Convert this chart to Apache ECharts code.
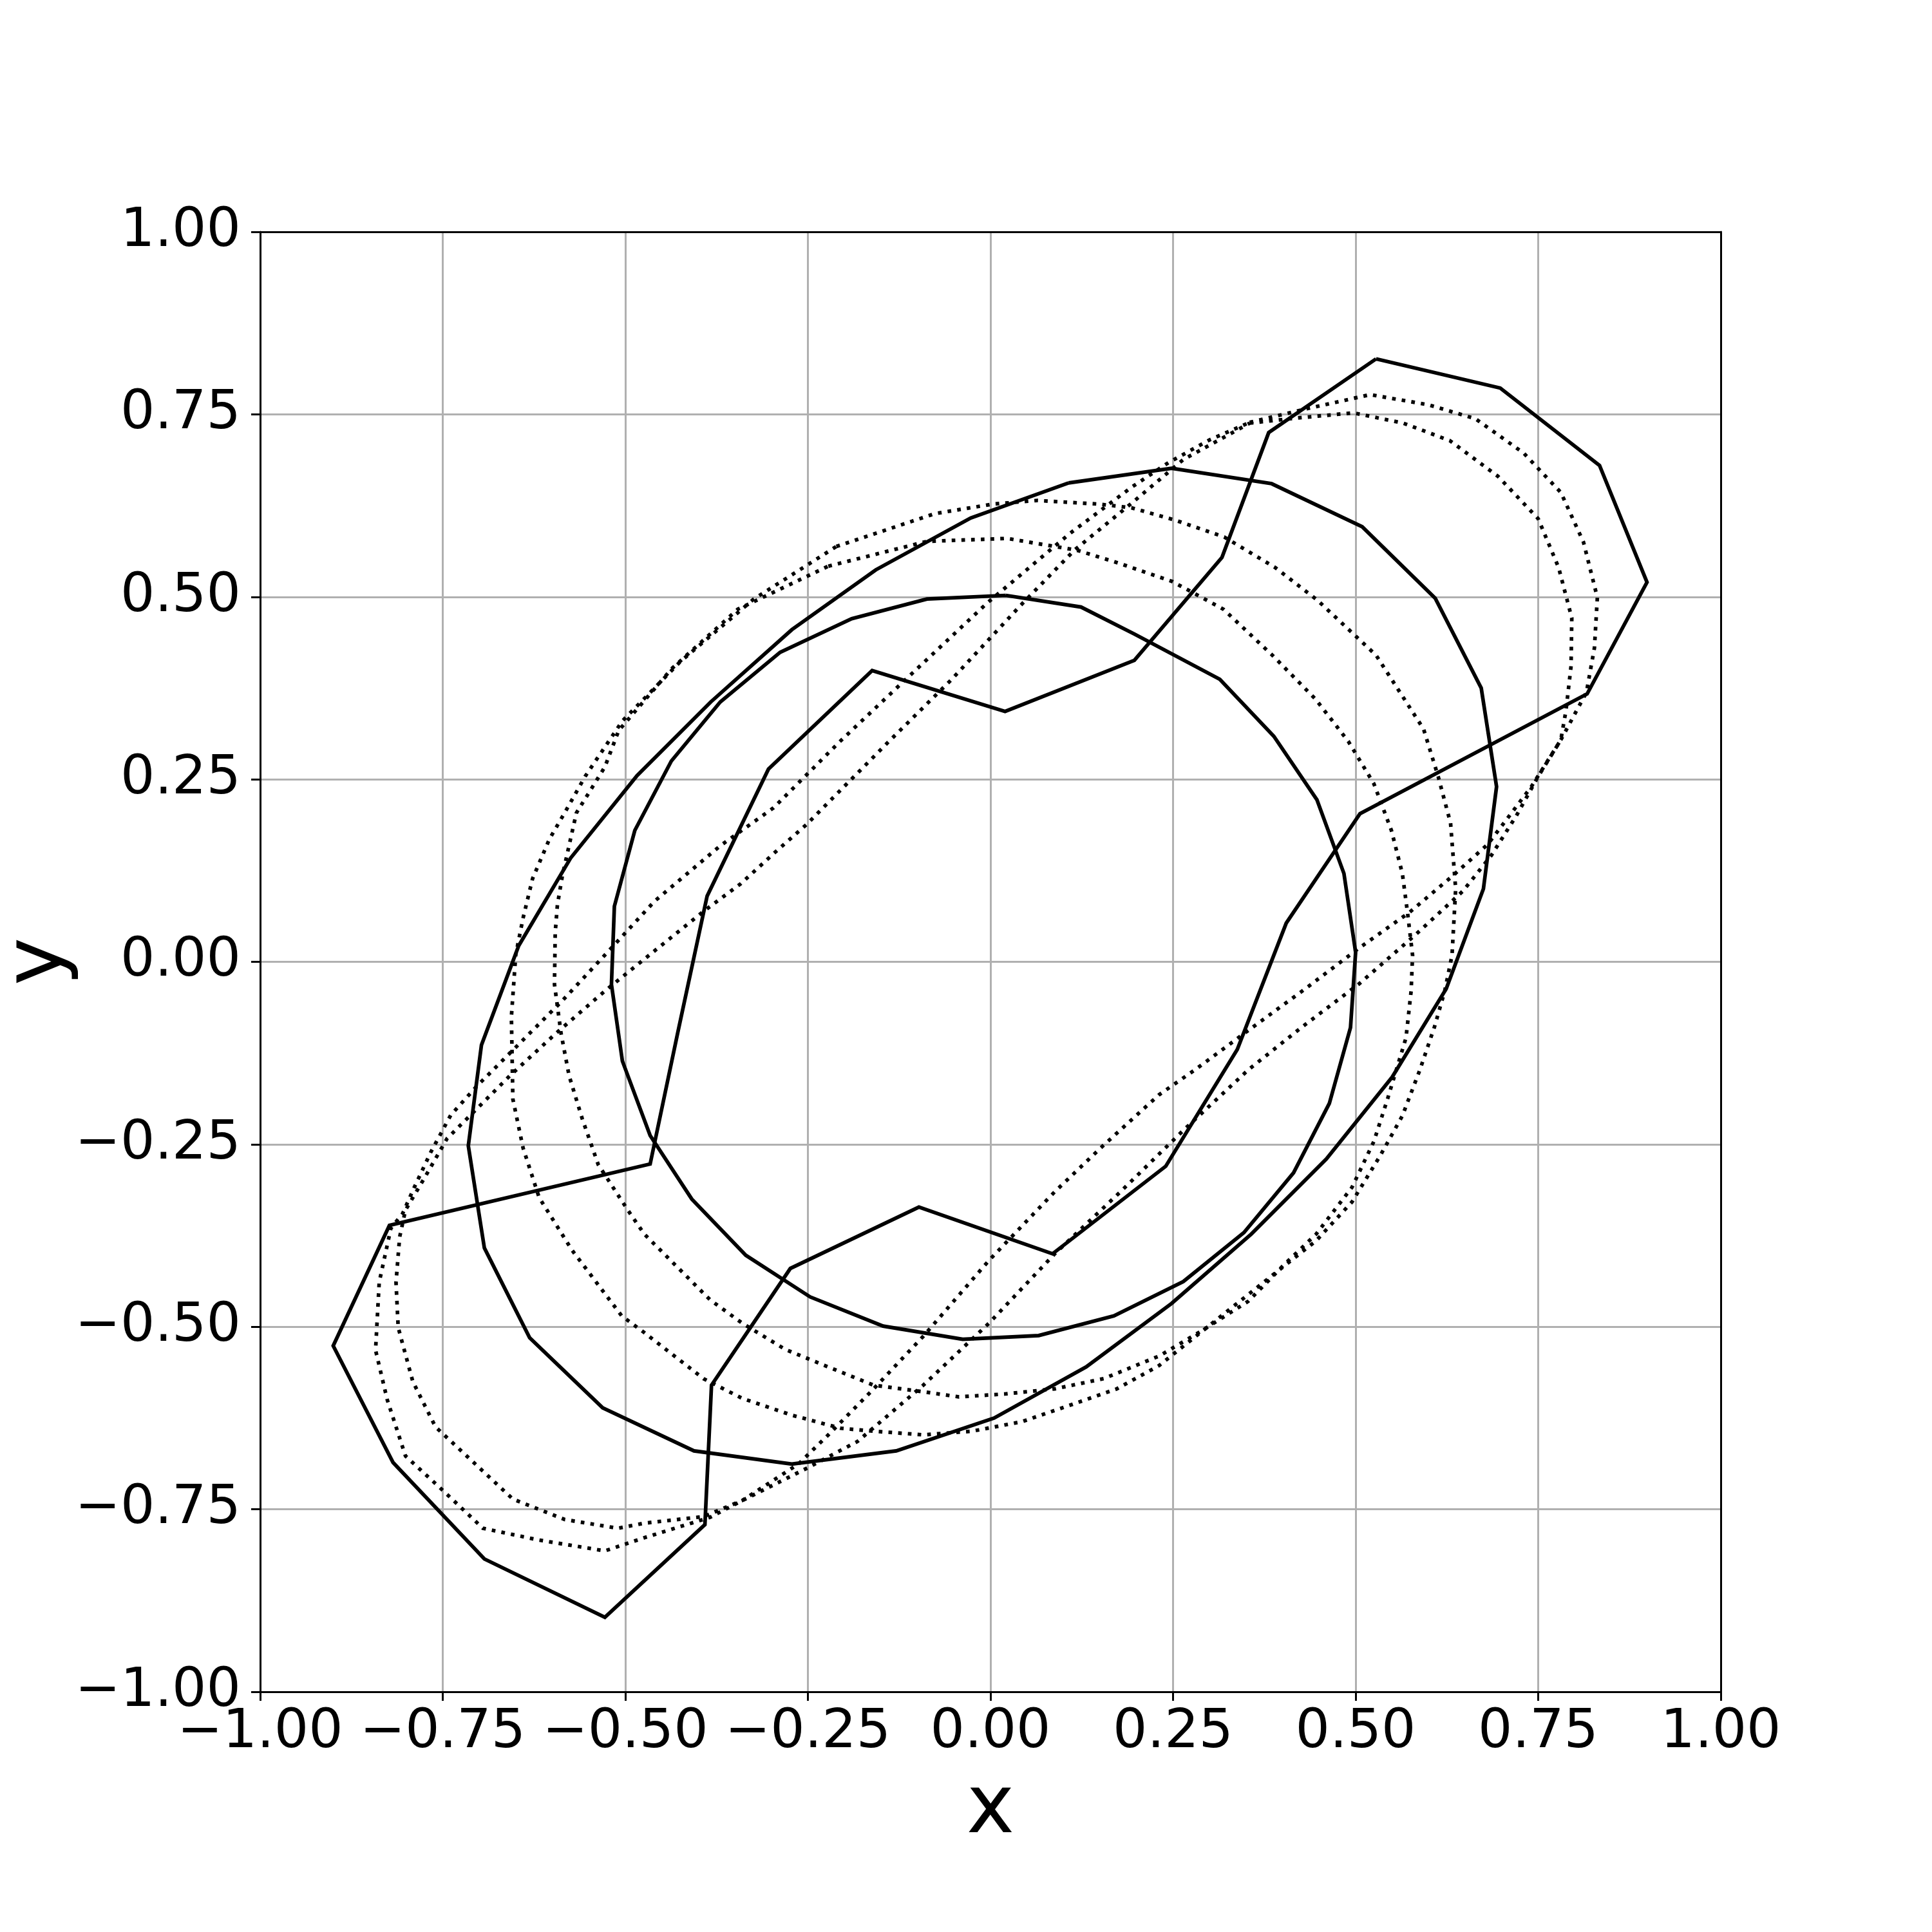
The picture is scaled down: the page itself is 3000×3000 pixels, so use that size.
<!DOCTYPE html>
<html>
<head>
<meta charset="utf-8">
<script src="https://cdn.jsdelivr.net/npm/echarts@6/dist/echarts.min.js"></script>
<style>
html,body{margin:0;padding:0;background:#fff;}
#chart{width:3000px;height:3000px;}
</style>
</head>
<body>
<div id="chart"></div>
<script>
// ---- data (x, y pairs) ----
const tickValues = [-1, -0.75, -0.5, -0.25, 0, 0.25, 0.5, 0.75, 1];

const solidInner = [
[0.021,0.502],[0.124,0.486],[0.197,0.449],[0.314,0.387],[0.388,0.309],[0.447,0.222],[0.484,0.121],[0.500,0.013],
[0.493,-0.090],[0.464,-0.194],[0.415,-0.289],[0.347,-0.371],[0.264,-0.438],[0.169,-0.485],[0.066,-0.512],[-0.038,-0.517],
[-0.147,-0.499],[-0.247,-0.459],[-0.335,-0.402],[-0.409,-0.325],[-0.466,-0.238],[-0.504,-0.136],[-0.519,-0.031],[-0.515,0.076],
[-0.487,0.180],[-0.437,0.275],[-0.370,0.356],[-0.288,0.424],[-0.190,0.470],[-0.087,0.497]
];

const solidMiddle = [
[0.107,0.656],[0.248,0.676],[0.385,0.655],[0.509,0.596],[0.609,0.498],[0.672,0.375],[0.693,0.240],[0.675,0.100],
[0.624,-0.037],[0.550,-0.158],[0.460,-0.270],[0.357,-0.373],[0.248,-0.468],[0.131,-0.555],[0.005,-0.625],[-0.129,-0.670],
[-0.272,-0.688],[-0.406,-0.670],[-0.531,-0.611],[-0.631,-0.515],[-0.693,-0.392],[-0.715,-0.252],[-0.697,-0.114],[-0.646,0.022],
[-0.575,0.142],[-0.484,0.255],[-0.383,0.356],[-0.272,0.455],[-0.157,0.537],[-0.027,0.608]
];

const solidOuter = [
[0.528,0.826],[0.698,0.786],[0.834,0.680],[0.899,0.520],[0.817,0.367],[0.506,0.203],[0.405,0.053],[0.338,-0.120],
[0.240,-0.280],[0.085,-0.400],[-0.098,-0.336],[-0.274,-0.420],[-0.382,-0.580],[-0.391,-0.771],[-0.528,-0.898],[-0.693,-0.818],
[-0.818,-0.686],[-0.900,-0.526],[-0.823,-0.361],[-0.466,-0.277],[-0.428,-0.096],[-0.388,0.090],[-0.304,0.264],[-0.162,0.399],
[0.020,0.343],[0.197,0.413],[0.317,0.554],[0.381,0.725]
];

const dottedOuterA = [
[0.355,0.739],[0.430,0.757],[0.520,0.777],[0.600,0.763],[0.664,0.744],[0.730,0.697],[0.781,0.643],[0.812,0.575],
[0.831,0.499],[0.827,0.430],[0.816,0.369],[0.781,0.304],[0.750,0.254],[0.720,0.200],[0.686,0.146],[0.647,0.097],
[0.583,0.038],[0.505,-0.030],[0.427,-0.089],[0.353,-0.148],[0.265,-0.230],[0.178,-0.315],[0.088,-0.400],[-0.002,-0.495],
[-0.092,-0.580],[-0.182,-0.657],[-0.250,-0.693],[-0.340,-0.738],[-0.384,-0.761],[-0.474,-0.789],[-0.528,-0.807],[-0.619,-0.792],
[-0.695,-0.776],[-0.750,-0.724],[-0.801,-0.677],[-0.826,-0.600],[-0.842,-0.532],[-0.837,-0.439],[-0.821,-0.365],[-0.805,-0.345],
[-0.789,-0.309],[-0.766,-0.260],[-0.739,-0.210],[-0.703,-0.170],[-0.649,-0.116],[-0.586,-0.053],[-0.519,0.019],[-0.460,0.083],
[-0.370,0.159],[-0.297,0.211],[-0.207,0.301],[-0.117,0.386],[-0.004,0.492],[0.109,0.587],[0.193,0.650],[0.244,0.684],[0.300,0.715]
];

const dottedOuterB = [
[0.355,0.738],[0.420,0.745],[0.497,0.752],[0.565,0.738],[0.629,0.714],[0.695,0.665],[0.750,0.607],[0.778,0.540],
[0.796,0.471],[0.795,0.405],[0.788,0.344],[0.781,0.304],[0.740,0.239],[0.681,0.161],[0.632,0.117],[0.574,0.068],
[0.505,0.019],[0.427,-0.040],[0.353,-0.094],[0.280,-0.148],[0.231,-0.182],[0.153,-0.253],[0.088,-0.315],[-0.002,-0.409],
[-0.092,-0.513],[-0.160,-0.585],[-0.222,-0.648],[-0.263,-0.688],[-0.340,-0.738],[-0.393,-0.760],[-0.474,-0.769],[-0.510,-0.776],
[-0.583,-0.764],[-0.654,-0.736],[-0.760,-0.637],[-0.791,-0.575],[-0.811,-0.501],[-0.814,-0.439],[-0.809,-0.377],[-0.801,-0.340],
[-0.775,-0.296],[-0.744,-0.242],[-0.712,-0.210],[-0.658,-0.156],[-0.595,-0.098],[-0.528,-0.040],[-0.460,0.015],[-0.393,0.069],
[-0.342,0.107],[-0.295,0.150],[-0.252,0.188],[-0.140,0.301],[-0.054,0.386],[0.041,0.488],[0.115,0.564],[0.193,0.628],[0.264,0.688]
];

const dottedMidA = [
[-0.211,0.569],[-0.076,0.614],[0.003,0.627],[0.064,0.632],[0.149,0.627],[0.193,0.622],[0.253,0.605],[0.320,0.582],
[0.390,0.540],[0.447,0.496],[0.528,0.420],[0.593,0.319],[0.613,0.254],[0.630,0.190],[0.637,0.100],[0.632,0.009],
[0.622,-0.040],[0.608,-0.089],[0.588,-0.148],[0.564,-0.211],[0.534,-0.265],[0.495,-0.329],[0.446,-0.382],[0.398,-0.420],
[0.310,-0.490],[0.231,-0.553],[0.173,-0.585],[0.110,-0.607],[0.043,-0.630],[-0.025,-0.643],[-0.092,-0.648],[-0.160,-0.643],
[-0.205,-0.639],[-0.272,-0.621],[-0.340,-0.598],[-0.393,-0.571],[-0.474,-0.508],[-0.505,-0.485],[-0.573,-0.395],[-0.618,-0.323],
[-0.640,-0.255],[-0.654,-0.188],[-0.656,-0.075],[-0.650,0.010],[-0.640,0.060],[-0.627,0.114],[-0.604,0.168],[-0.582,0.206],
[-0.555,0.254],[-0.504,0.330],[-0.425,0.411],[-0.324,0.497]
];

const dottedMidB = [
[-0.222,0.542],[-0.087,0.576],[0.023,0.580],[0.064,0.573],[0.118,0.564],[0.176,0.546],[0.249,0.521],[0.319,0.483],
[0.386,0.420],[0.445,0.360],[0.490,0.302],[0.525,0.244],[0.549,0.180],[0.564,0.121],[0.571,0.068],[0.578,0.009],
[0.576,-0.040],[0.569,-0.104],[0.544,-0.187],[0.525,-0.246],[0.495,-0.309],[0.446,-0.373],[0.402,-0.415],[0.353,-0.465],
[0.290,-0.505],[0.231,-0.540],[0.155,-0.571],[0.088,-0.585],[0.020,-0.592],[-0.043,-0.596],[-0.092,-0.589],[-0.160,-0.580],
[-0.227,-0.553],[-0.281,-0.531],[-0.340,-0.495],[-0.384,-0.463],[-0.429,-0.418],[-0.474,-0.373],[-0.496,-0.341],[-0.537,-0.278],
[-0.559,-0.215],[-0.577,-0.156],[-0.588,-0.098],[-0.597,-0.031],[-0.596,0.040],[-0.593,0.078],[-0.586,0.119],[-0.567,0.204],
[-0.528,0.267],[-0.509,0.317],[-0.436,0.402],[-0.346,0.483]
];

// ---- chart ----
function closed(a){ return a.concat([a[0]]); }
function fmt(v){ return (v < 0 ? '\u2212' : '') + Math.abs(v).toFixed(2); }

const FONT = 'DejaVu Sans';
const LW = 5.7;
const solidStyle = {color:'#000', width:LW, type:'solid', cap:'butt', join:'miter'};
const dotStyle = {color:'#000', width:LW, type:[LW, 9.4], cap:'butt', join:'miter'};

function lineSeries(name, pts, style){
  return {
    name: name, type:'line', data: closed(pts), showSymbol:false, symbol:'none',
    xAxisIndex:0, yAxisIndex:0,
    lineStyle: style, silent:true, animation:false, z:3, clip:true
  };
}

const axisCommon = {
  type:'value', min:-1, max:1, interval:0.25,
  axisLine:{show:true, onZero:false, lineStyle:{color:'#000', width:3}},
  axisTick:{show:true, inside:false, length:14, lineStyle:{color:'#000', width:3}},
  splitLine:{show:true, lineStyle:{color:'#b0b0b0', width:3}},
  axisLabel:{fontFamily:FONT, fontSize:84, color:'#000', formatter: fmt}
};
const spineOnly = {
  type:'value', min:-1, max:1, interval:0.25,
  axisLine:{show:true, onZero:false, lineStyle:{color:'#000', width:3}},
  axisTick:{show:false}, axisLabel:{show:false}, splitLine:{show:false}
};

const chart = echarts.init(document.getElementById('chart'), null, {renderer:'canvas', width:3000, height:3000});
chart.setOption({
  animation:false,
  backgroundColor:'#fff',
  grid:{left:404, top:360, width:2268, height:2267, containLabel:false, outerBoundsMode:'none',
        show:false},
  xAxis: [
    Object.assign({}, axisCommon, {
      position:'bottom',
      name:'x', nameLocation:'middle', nameGap:122, nameMoveOverlap:false,
      nameTextStyle:{fontFamily:FONT, fontSize:126, color:'#000'},
      axisLabel: Object.assign({}, axisCommon.axisLabel, {margin:22})
    }),
    Object.assign({}, spineOnly, {position:'top'})
  ],
  yAxis: [
    Object.assign({}, axisCommon, {
      position:'left',
      axisLabel: Object.assign({}, axisCommon.axisLabel, {margin:30})
    }),
    Object.assign({}, spineOnly, {position:'right'})
  ],
  graphic:[{
    type:'text', x:62, y:1493, rotation:Math.PI/2, silent:true,
    style:{text:'y', fontSize:126, fontFamily:FONT, fill:'#000', align:'center', verticalAlign:'middle'}
  }],
  series:[
    lineSeries('solidInner', solidInner, solidStyle),
    lineSeries('solidMiddle', solidMiddle, solidStyle),
    lineSeries('solidOuter', solidOuter, solidStyle),
    lineSeries('dottedOuterA', dottedOuterA, dotStyle),
    lineSeries('dottedOuterB', dottedOuterB, dotStyle),
    lineSeries('dottedMidA', dottedMidA, dotStyle),
    lineSeries('dottedMidB', dottedMidB, dotStyle)
  ]
});
</script>
</body>
</html>
